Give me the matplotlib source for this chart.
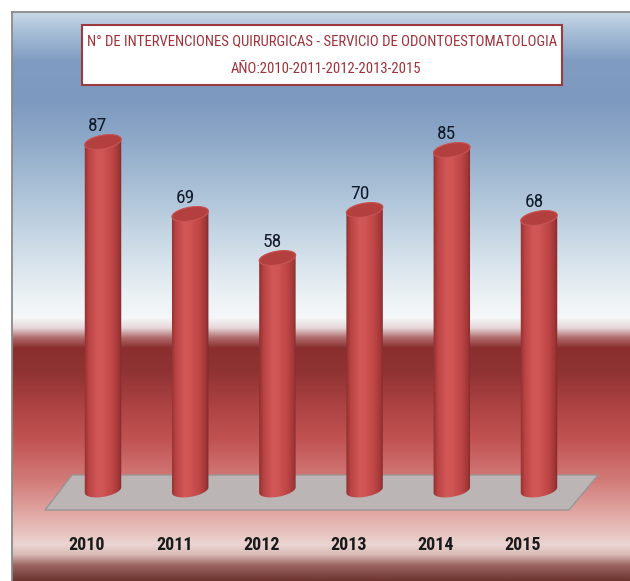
import numpy as np
import matplotlib
matplotlib.use("Agg")
import matplotlib.pyplot as plt
from matplotlib import font_manager
from matplotlib.colors import LinearSegmentedColormap, to_rgb
from matplotlib.patches import Polygon, Rectangle
from matplotlib.lines import Line2D

# data
years = ["2010", "2011", "2012", "2013", "2014", "2015"]
counts = [87, 69, 58, 70, 85, 68]
title_1 = "N° DE INTERVENCIONES QUIRURGICAS - SERVICIO DE ODONTOESTOMATOLOGIA"
title_2 = "AÑO:2010-2011-2012-2013-2015"

# narrowest font that is installed
names = {f.name for f in font_manager.fontManager.ttflist}
fam = "DejaVu Sans"
for cand in ["Liberation Sans Narrow", "Roboto Condensed", "Open Sans Condensed",
             "Liberation Sans", "Roboto"]:
    if cand in names:
        fam = cand
        break

W, H = 630, 581
fig = plt.figure(figsize=(W / 100, H / 100), dpi=100)
fig.patch.set_facecolor("white")

def fx(px):
    return px / W

def fy(py):
    return 1 - py / H

# background gradient (pixel y, colour)
stops = [(12, "#c8d8e7"), (30, "#a9c0d8"), (60, "#809cc2"), (100, "#7d99bf"),
         (140, "#8ea9c8"), (200, "#b1c6da"), (260, "#d6e2eb"), (300, "#eef3f6"),
         (318, "#f5f7f9"), (328, "#e6d6d9"), (338, "#b06a6a"), (348, "#8a2e2e"),
         (372, "#903333"), (410, "#b04444"), (440, "#c15353"), (480, "#d27a78"),
         (520, "#e3b0ab"), (545, "#ebd5d2"), (555, "#d8bab6"), (566, "#9a6460"),
         (581, "#6e3530")]
ys = np.arange(12, H + 1)
sp = np.array([s[0] for s in stops])
cols = np.array([to_rgb(s[1]) for s in stops])
grad = np.stack([np.interp(ys, sp, cols[:, k]) for k in range(3)], axis=1)[:, None, :]

pos = [fx(12), 0, 1 - fx(12), 1 - 12 / H]
bg = fig.add_axes(pos)
bg.imshow(grad, aspect="auto", extent=[0, 1, 0, 1])
bg.set_axis_off()

fig.add_artist(Line2D([fx(12), fx(12)], [0, fy(12)], color="#8a8a8a", lw=1.3))
fig.add_artist(Line2D([fx(12), 1], [fy(12), fy(12)], color="#8a8a8a", lw=1.3))

# chart axes: category index on x, count on y
x0, step = 103, 87.2     # pixel centre of first cylinder, spacing
base, unit = 490, 4.0    # pixel y of zero, pixels per unit
ax = fig.add_axes(pos)
ax.set_axis_off()
ax.patch.set_alpha(0)
sx, sy = step, unit

# grey floor
n = len(counts)
floor = [(-31 / sx, 15 / sy), (n - 1 + 59 / sx, 15 / sy),
         (n - 1 + 30 / sx, -20 / sy), (-58 / sx, -20 / sy)]
ax.add_patch(Polygon(floor, closed=True, facecolor="#bbb5b5",
                     edgecolor="#9a9494", lw=1.0, zorder=1))

# cylinders
a, b, tilt = 18.5, 6.8, np.radians(10)

def ell(cx, cy, t):
    ex = a * np.cos(t) * np.cos(tilt) - b * np.sin(t) * np.sin(tilt)
    ey = a * np.cos(t) * np.sin(tilt) + b * np.sin(t) * np.cos(tilt)
    return np.column_stack([cx + ex / sx, cy + ey / sy])

body_cmap = LinearSegmentedColormap.from_list(
    "body", [(0, "#8f2f2f"), (0.12, "#b94343"), (0.35, "#d25757"),
             (0.5, "#d05555"), (0.75, "#bf4646"), (0.92, "#a03636"), (1, "#7f2828")])
hgrad = np.linspace(0, 1, 200)[None, :]

for i, v in enumerate(counts):
    t1 = np.linspace(np.pi, 2 * np.pi, 50)
    t2 = np.linspace(0, np.pi, 50)
    outline = np.vstack([ell(i, 0, t1), ell(i, v, t2)])
    body = Polygon(outline, closed=True, facecolor="none", edgecolor="none")
    ax.add_patch(body)
    half = a * 1.02 / sx
    im = ax.imshow(hgrad, cmap=body_cmap, aspect="auto", zorder=2,
                   extent=[i - half, i + half, -3 * b / sy, v + 3 * b / sy])
    im.set_clip_path(body)
    top = ell(i, v, np.linspace(0, 2 * np.pi, 80))
    ax.add_patch(Polygon(top, closed=True, facecolor="#b33f3f",
                         edgecolor="#c95454", lw=0.8, zorder=3))
    ax.text(i - 5 / sx, v + 16 / sy, str(v), ha="center", va="center",
            fontsize=14, color="#111a2a", family=fam, zorder=4)
    ax.text(i - 16 / sx, (base - 545) / unit, years[i], ha="center", va="center",
            fontsize=13, fontweight="bold", color="#1a1a1a", family=fam, zorder=4)

ax.set_xlim((12 - x0) / step, (W - x0) / step)
ax.set_ylim((base - H) / unit, (base - 12) / unit)

# title box
fig.add_artist(Rectangle((fx(82), fy(85)), (562 - 82) / W, 60 / H,
                         transform=fig.transFigure, facecolor="white",
                         edgecolor="#9b3a3f", lw=1.5, zorder=5))
t1 = fig.text(fx(322), fy(41), title_1, ha="center", va="center", fontsize=12,
              color="#a0323a", family=fam, zorder=6)
t2 = fig.text(fx(326), fy(69), title_2, ha="center", va="center", fontsize=12,
              color="#a0323a", family=fam, zorder=6)

# size the first title line to the box width, second line follows it
fig.canvas.draw()
r = fig.canvas.get_renderer()
w = t1.get_window_extent(r).width
fs = t1.get_fontsize() * 470 / w
t1.set_fontsize(fs)
t2.set_fontsize(fs)

fig.savefig("out.png", dpi=100)
